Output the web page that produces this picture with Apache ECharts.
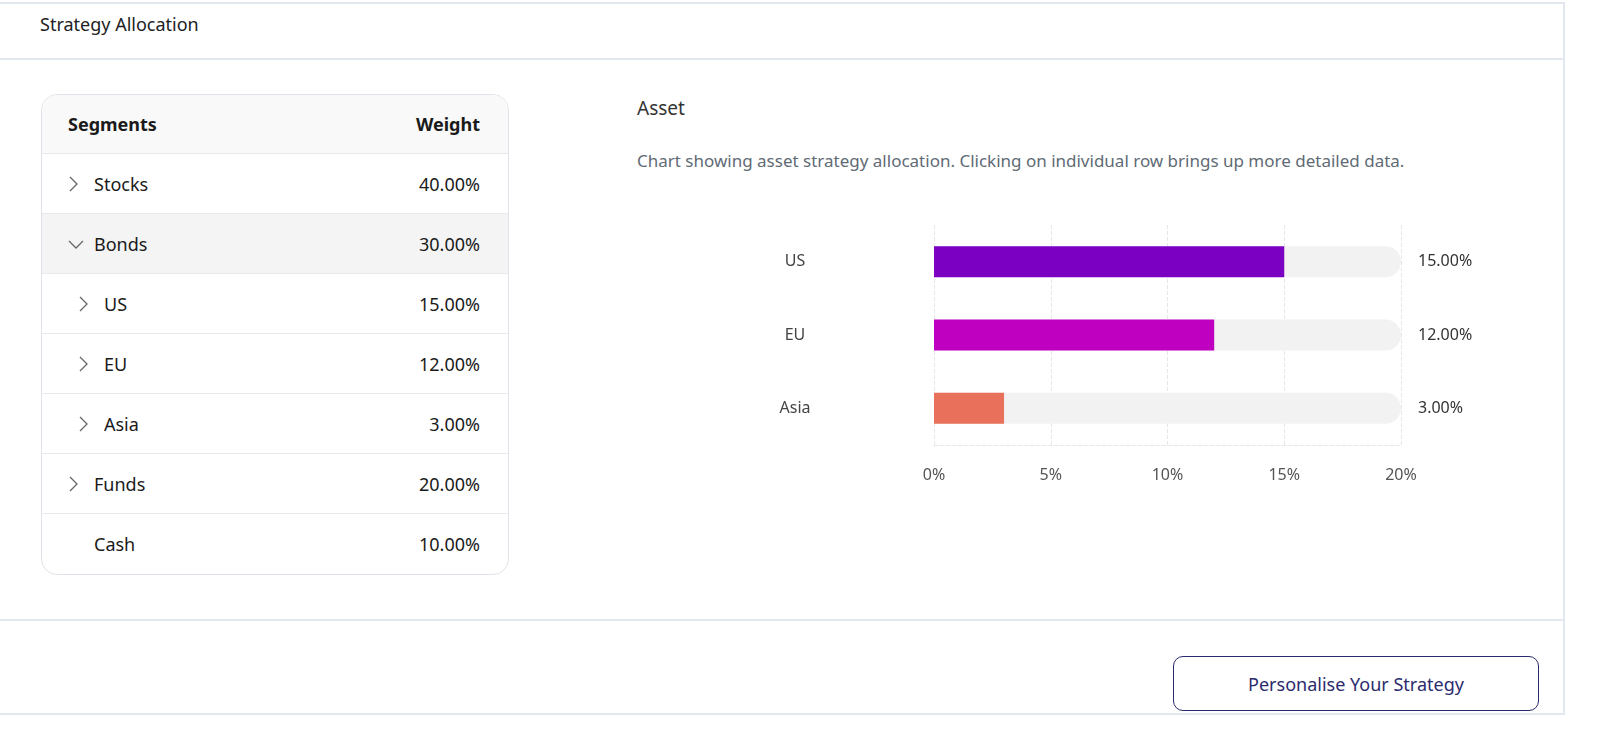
<!DOCTYPE html>
<html style="overflow:hidden;width:1600px;height:732px"><head><meta charset="utf-8">
<script src="https://cdn.jsdelivr.net/npm/echarts@6/dist/echarts.min.js"></script>
<style>
body{margin:0;width:1600px;height:732px;background:#fff;font-family:"Noto Sans",sans-serif;color:#1a1a1a;position:relative;overflow:hidden}
.frame{position:absolute;left:0;top:2px;width:1565px;height:713px;border-top:2px solid #e3e8f0;border-right:2px solid #e3e8f0;border-bottom:2px solid #e3e8f0;box-sizing:border-box}
.title{position:absolute;left:40px;top:12px;font-size:18px;color:#222}
.hline{position:absolute;left:0;width:1565px;height:2px;background:#e3e8f0}
.tbl{position:absolute;left:41px;top:94px;width:468px;height:481px;border:1px solid #e0e4ea;border-radius:16px;overflow:hidden;box-sizing:border-box}
.row{height:60px;border-bottom:1px solid #e6e9ee;display:flex;align-items:center;justify-content:space-between;padding:0 28px 0 24px;font-size:18px;box-sizing:border-box}
.row:last-child{border-bottom:none}
.hdr{background:#f9f9f9;font-weight:bold;height:59px}
.sel{background:#f4f4f4}
.btn{position:absolute;left:1173px;top:656px;width:366px;height:55px;border:1px solid #2b2b6e;border-radius:10px;box-sizing:border-box;color:#2b2b6e;font-size:18px;display:flex;align-items:center;justify-content:center}
#chart{position:absolute;left:600px;top:200px;width:960px;height:300px}
</style></head><body>
<div class="frame"></div>
<div class="title">Strategy Allocation</div>
<div class="hline" style="top:58px"></div>
<div class="hline" style="top:619px"></div>
<div class="tbl" id="tbl"></div>
<div style="position:absolute;left:637px;top:95px;font-size:19px;color:#333">Asset</div>
<div style="position:absolute;left:637px;top:149px;font-size:17px;color:#5f6b75;white-space:nowrap">Chart showing asset strategy allocation. Clicking on individual row brings up more detailed data.</div>
<div id="chart"></div>
<div class="btn">Personalise Your Strategy</div>
<script>
const segments=['Stocks','Bonds','US','EU','Asia','Funds','Cash'];
const weights=['40.00%','30.00%','15.00%','12.00%','3.00%','20.00%','10.00%'];
const arrows=['r','d','r','r','r','r',''];
const indent=[0,0,1,1,1,0,0];
const categories=['US','EU','Asia'];
const values=[15,12,3];
const colors=['#7b00c2','#bf00c0','#e9705a'];
let h='<div class="row hdr"><span style="padding-left:2px">Segments</span><span>Weight</span></div>';
segments.forEach((s,i)=>{
 const ar=arrows[i]==='d'?'<svg width="16" height="10" style="margin-right:10px"><polyline points="1,2 8,9 15,2" fill="none" stroke="#666" stroke-width="1.3"/></svg>':arrows[i]?'<svg width="10" height="16" style="margin-right:16px"><polyline points="2,1 9,8 2,15" fill="none" stroke="#666" stroke-width="1.3"/></svg>':'<span style="display:inline-block;width:26px"></span>';
 h+='<div class="row'+(i===1?' sel':'')+'"><span style="display:flex;align-items:center;padding-left:'+(indent[i]?12:2)+'px">'+ar+s+'</span><span>'+weights[i]+'</span></div>';
});
document.getElementById('tbl').innerHTML=h;
const c=echarts.init(document.getElementById('chart'));
c.setOption({
 animation:false,
 grid:{left:334,right:159,top:25,bottom:55},
 xAxis:{type:'value',min:0,max:20,interval:5,
  axisLabel:{formatter:'{value}%',color:'#555',fontSize:16,margin:22,fontFamily:'Noto Sans'},
  axisLine:{show:true,lineStyle:{color:'#e8e8e8',type:'dashed'}},axisTick:{show:false},
  splitLine:{show:true,lineStyle:{color:'#e6e6e6',type:'dashed'}}},
 yAxis:{type:'category',data:categories,inverse:true,
  axisLine:{show:false},axisTick:{show:false},
  axisLabel:{color:'#444',fontSize:16,align:'center',margin:139,fontFamily:'Noto Sans'}},
 series:[
  {type:'bar',data:values.map(()=>20),barWidth:31,barGap:'-100%',silent:true,z:1,
   itemStyle:{color:'#f2f2f2',borderRadius:[0,16,16,0]},
   label:{show:true,position:'right',distance:17,color:'#333',fontSize:16,fontFamily:'Noto Sans',
    formatter:p=>values[p.dataIndex].toFixed(2)+'%'}},
  {type:'bar',data:values.map((v,i)=>({value:v,itemStyle:{color:colors[i]}})),barWidth:31,z:2}
 ]
});
</script>
</body></html>
